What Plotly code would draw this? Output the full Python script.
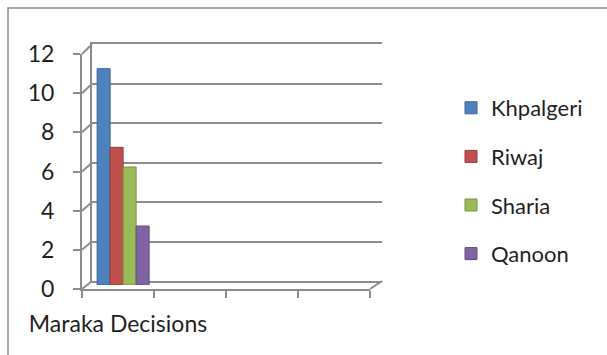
import plotly.graph_objects as go

# ---- data ----
categories = ["Maraka Decisions", " ", "  ", "   "]
series_names = ["Khpalgeri", "Riwaj", "Sharia", "Qanoon"]
khpalgeri = [11, None, None, None]
riwaj = [7, None, None, None]
sharia = [6, None, None, None]
qanoon = [3, None, None, None]
y_ticks = [0, 2, 4, 6, 8, 10, 12]

colors = ["#4F81BD", "#C0504D", "#9BBB59", "#8064A2"]
edge_colors = ["#3B6696", "#983B39", "#799447", "#624C7F"]

# ---- layout geometry (pixels) ----
W, H = 607, 355
def px(x):
    return x / W
def py(y):
    return 1 - y / H

FRONT_X = (82, 370); FRONT_Y = (289, 54)     # y for value 0, value 12
BACK_X = (92, 382);  BACK_Y = (281, 44.3)
BAR_X = (87, 376);   BAR_Y = (285, 49)
YMAX = 12
GRID = "#8C8C8C"
FAM = "Lato, 'Open Sans', sans-serif"
TXT = "#1f1f1f"
FONT = dict(family=FAM, size=22, color=TXT)
YFONT = dict(family=FAM, size=23, color=TXT)
XFONT = dict(family=FAM, size=23, color=TXT)

fig = go.Figure()

# invisible traces to set up the front axes and the back wall
fig.add_trace(go.Bar(x=categories, y=[0] * len(categories), xaxis="x", yaxis="y",
                     marker=dict(opacity=0), showlegend=False, hoverinfo="skip"))
fig.add_trace(go.Scatter(x=[0.5], y=[0], xaxis="x2", yaxis="y2", mode="markers",
                         marker=dict(opacity=0), showlegend=False, hoverinfo="skip"))

series = [khpalgeri, riwaj, sharia, qanoon]
for i, (name, vals) in enumerate(zip(series_names, series)):
    fig.add_trace(go.Bar(
        x=categories, y=vals, name=name, xaxis="x3", yaxis="y3",
        marker=dict(color=colors[i], line=dict(color=edge_colors[i], width=1)),
        legendgroup=name,
    ))

shapes = []
def yf(v):
    return FRONT_Y[0] + (FRONT_Y[1] - FRONT_Y[0]) * v / YMAX
def yb(v):
    return BACK_Y[0] + (BACK_Y[1] - BACK_Y[0]) * v / YMAX
for v in y_ticks:
    shapes.append(dict(type="line", xref="paper", yref="paper",
                       x0=px(FRONT_X[0]), y0=py(yf(v)), x1=px(BACK_X[0]), y1=py(yb(v)),
                       line=dict(color=GRID, width=2)))
# right floor edge
shapes.append(dict(type="line", xref="paper", yref="paper",
                   x0=px(FRONT_X[1]), y0=py(yf(0)), x1=px(BACK_X[1]), y1=py(yb(0)),
                   line=dict(color=GRID, width=2)))
# outer chart border
shapes.append(dict(type="rect", xref="paper", yref="paper",
                   x0=px(8), y0=py(8), x1=px(640), y1=py(400),
                   line=dict(color="#8a8a8a", width=1.5), fillcolor="rgba(0,0,0,0)"))

fig.update_layout(
    width=W, height=H,
    margin=dict(l=0, r=0, t=0, b=0, autoexpand=False),
    paper_bgcolor="white", plot_bgcolor="rgba(0,0,0,0)",
    font=FONT,
    barmode="group", bargap=0.28, bargroupgap=0,
    showlegend=True,
    legend=dict(x=px(451), y=py(87), xanchor="left", yanchor="top",
                font=FONT, tracegroupgap=17, bgcolor="rgba(0,0,0,0)",
                itemwidth=30),
    shapes=shapes,
    # front axes
    xaxis=dict(domain=[px(FRONT_X[0]), px(FRONT_X[1])], anchor="y",
               type="category", range=[-0.5, len(categories) - 0.5],
               tickson="boundaries", ticks="outside", ticklen=7, tickwidth=2,
               tickcolor=GRID, showline=True, linecolor=GRID, linewidth=2,
               showgrid=False, zeroline=False, tickfont=XFONT, tickangle=0,
               ticklabelstandoff=13, automargin=False, fixedrange=True),
    yaxis=dict(domain=[py(FRONT_Y[0]), py(FRONT_Y[1])], anchor="x",
               range=[0, YMAX], tickvals=y_ticks, ticks="outside", ticklen=7,
               tickwidth=2, tickcolor=GRID, showline=True, linecolor=GRID,
               linewidth=2, showgrid=False, zeroline=False, tickfont=YFONT,
               ticklabelstandoff=14, automargin=False, fixedrange=True),
    # back wall
    xaxis2=dict(domain=[px(BACK_X[0]), px(BACK_X[1])], anchor="y2",
                range=[0, 1], showticklabels=False, ticks="", showgrid=False,
                zeroline=False, showline=True, linecolor=GRID, linewidth=2,
                mirror=True, automargin=False, fixedrange=True),
    yaxis2=dict(domain=[py(BACK_Y[0]), py(BACK_Y[1])], anchor="x2",
                range=[0, YMAX], tickvals=y_ticks, showticklabels=False, ticks="",
                showgrid=True, gridcolor=GRID, gridwidth=2, zeroline=False,
                showline=True, linecolor=GRID, linewidth=2, automargin=False,
                fixedrange=True),
    # bars (mid depth)
    xaxis3=dict(domain=[px(BAR_X[0]), px(BAR_X[1])], anchor="y3",
                type="category", range=[-0.5, len(categories) - 0.5],
                visible=False, automargin=False, fixedrange=True),
    yaxis3=dict(domain=[py(BAR_Y[0]), py(BAR_Y[1])], anchor="x3",
                range=[0, YMAX], visible=False, automargin=False, fixedrange=True),
)

fig.write_html("out.html")
